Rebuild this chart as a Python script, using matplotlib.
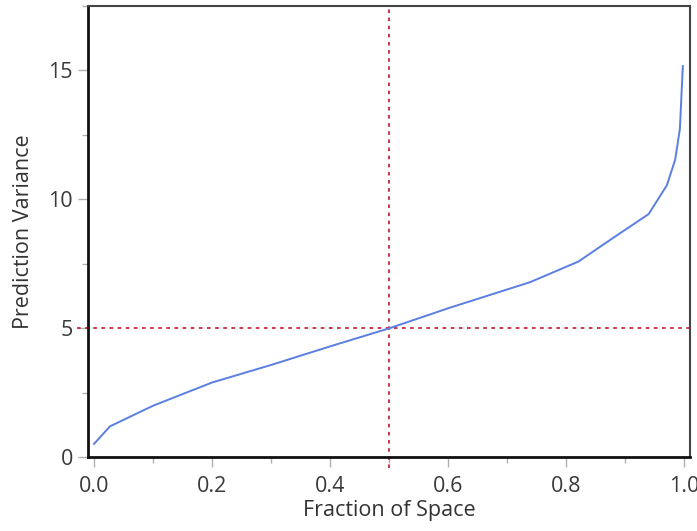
import matplotlib
matplotlib.use("Agg")
import matplotlib.pyplot as plt
from matplotlib.ticker import MultipleLocator

# fraction of design space vs prediction variance
frac = [0.0, 0.027, 0.10, 0.20, 0.30, 0.40, 0.50, 0.603, 0.739, 0.821,
        0.880, 0.940, 0.971, 0.985, 0.993, 0.998]
pvar = [0.52, 1.20, 2.00, 2.90, 3.58, 4.30, 5.00, 5.80, 6.79, 7.59,
        8.51, 9.43, 10.55, 11.54, 12.73, 15.17]

ref_x = 0.5
ref_y = 5.0

plt.rcParams['font.family'] = ['Open Sans', 'DejaVu Sans']

fig = plt.figure(figsize=(6.97, 5.31), dpi=100)
ax = fig.add_axes([0.1263, 0.1388, 0.8637, 0.8499])

ax.plot(frac, pvar, color='#5b7fe0', lw=1.4, zorder=3)
# reference lines run on through the tick marks, like the original
ax.axvline(ref_x, ymin=-0.024, color='#c8283c', lw=1.3, ls=(0, (2, 2.5)),
           zorder=2, clip_on=False)
ax.axhline(ref_y, xmin=-0.018, color='#c8283c', lw=1.3, ls=(0, (2, 2.5)),
           zorder=2, clip_on=False)

ax.set_xlim(-0.0102, 1.0102)
ax.set_ylim(0, 17.5)
ax.xaxis.set_major_locator(MultipleLocator(0.2))
ax.xaxis.set_minor_locator(MultipleLocator(0.1))
ax.yaxis.set_major_locator(MultipleLocator(5))
ax.yaxis.set_minor_locator(MultipleLocator(2.5))
ax.xaxis.set_major_formatter(plt.FuncFormatter(lambda v, p: '%.1f' % v))

ax.tick_params(which='both', direction='out', color='#b0b0b0', width=1.0,
               labelsize=15.5, labelcolor='#3a3a3a')
ax.tick_params(which='major', length=7.5)
ax.tick_params(which='minor', length=4)
ax.tick_params(axis='x', which='major', pad=6)
ax.tick_params(axis='y', which='major', pad=3.5)

for side in ['left', 'bottom']:
    ax.spines[side].set_linewidth(2.0)
    ax.spines[side].set_color('#111111')
for side in ['top', 'right']:
    ax.spines[side].set_linewidth(1.5)
    ax.spines[side].set_color('#444444')

ax.set_xlabel('Fraction of Space', fontsize=15.5, color='#333333', labelpad=2)
ax.set_ylabel('Prediction Variance', fontsize=15.5, color='#333333', labelpad=10)

fig.savefig('out.png', dpi=100)
